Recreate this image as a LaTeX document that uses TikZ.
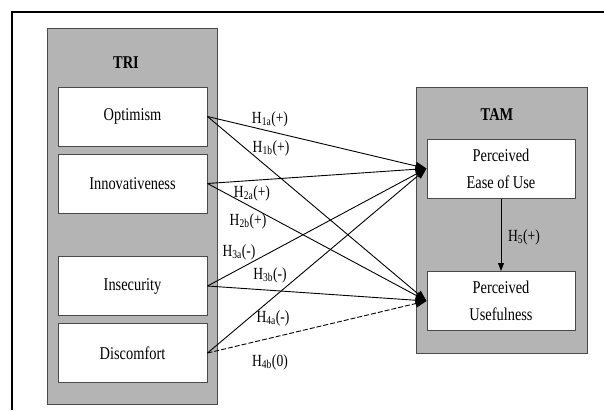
\documentclass[tikz,border=0pt]{standalone}
\usepackage{fontspec}
\setmainfont[FakeStretch=0.8]{Liberation Serif}
\usetikzlibrary{arrows.meta}
\definecolor{panelgray}{HTML}{B4B4B4}
\definecolor{edgegray}{HTML}{4A4A4A}
\begin{document}
\begin{tikzpicture}[x=1pt,y=-1pt,
  panel/.style={draw=edgegray, fill=panelgray, line width=1pt, inner sep=0pt},
  construct/.style={draw=edgegray, fill=white, line width=1pt, align=center,
    inner sep=0pt, minimum width=149pt, minimum height=59pt,
    font=\fontsize{18}{27}\selectfont},
  heading/.style={font=\fontsize{18}{20}\selectfont\bfseries},
  hyp/.style={font=\fontsize{17}{18}\selectfont, inner sep=1pt},
  link/.style={line width=0.9pt, -{Triangle[length=11pt,width=8pt]}},
  nulllink/.style={link, dash pattern=on 5pt off 2pt}
]
\useasboundingbox (0,0) rectangle (604,410);
\fill[white] (0,0) rectangle (604,410);

% frame
\draw[line width=2pt] (12,410) -- (12,12) -- (604,12);

% panels
\node[panel, minimum width=170pt, minimum height=376pt] (tri) at (132,216) {};
\node[panel, minimum width=171pt, minimum height=266pt] (tam) at (501.5,220) {};
\node[heading] (tritext) at (126,63) {TRI};
\node[heading] (tamtext) at (497,115) {TAM};

% TRI dimensions
\node[construct] (opt) at (132.5,116.5) {Optimism};
\node[construct] (inn) at (132.5,183.5) {Innovativeness};
\node[construct] (ins) at (132.5,286) {Insecurity};
\node[construct] (dis) at (132.5,353) {Discomfort};

% TAM constructs
\node[construct, minimum width=148pt] (peou) at (501,168.5) {Perceived\\Ease of Use};
\node[construct, minimum width=148pt] (pu) at (501,301) {Perceived\\Usefulness};

% hypothesised paths
\draw[link] (opt.east) -- (peou.west);
\draw[link] (opt.east) -- (pu.west);
\draw[link] (inn.east) -- (peou.west);
\draw[link] (inn.east) -- (pu.west);
\draw[link] (ins.east) -- (peou.west);
\draw[link] (ins.east) -- (pu.west);
\draw[link] (dis.east) -- (peou.west);
\draw[nulllink] (dis.east) -- (pu.west);
\draw[line width=0.8pt, -{Triangle[length=8pt,width=6pt]}] (peou.south) -- (pu.north);

% path labels
\node[hyp] (h1a) at (270,119) {H\textsubscript{1a}(+)};
\node[hyp] (h1b) at (271,148) {H\textsubscript{1b}(+)};
\node[hyp] (h2a) at (252,193) {H\textsubscript{2a}(+)};
\node[hyp] (h2b) at (248,221) {H\textsubscript{2b}(+)};
\node[hyp] (h3a) at (239,252) {H\textsubscript{3a}(-)};
\node[hyp] (h3b) at (270,275) {H\textsubscript{3b}(-)};
\node[hyp] (h4a) at (273,318) {H\textsubscript{4a}(-)};
\node[hyp] (h4b) at (270,362) {H\textsubscript{4b}(0)};
\node[hyp] (h5) at (524,237) {H\textsubscript{5}(+)};
\end{tikzpicture}
\end{document}
